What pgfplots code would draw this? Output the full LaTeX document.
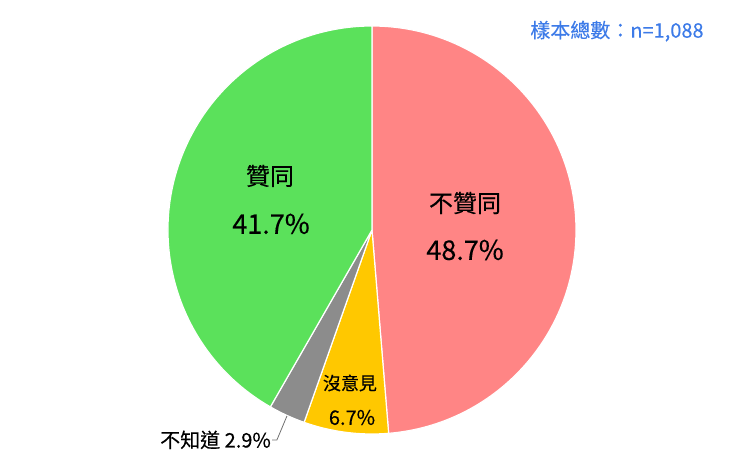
\documentclass[border=0pt]{standalone}
\usepackage{pgfplots}
\pgfplotsset{compat=1.18}
\usepackage{pgfplotstable}
\usepackage{fontspec}
\setmainfont{Noto Sans CJK TC}
\newfontfamily\lbl[FakeBold=0.3]{Noto Sans CJK TC}

\definecolor{cDis}{HTML}{FF8585}
\definecolor{cNone}{HTML}{FFC800}
\definecolor{cDK}{HTML}{8C8C8C}
\definecolor{cAgr}{HTML}{5BE15B}
\definecolor{cNote}{HTML}{3D7BE8}

% share of answers, clockwise from 12 o'clock
\pgfplotstableread{
label value
不贊同 48.7
沒意見 6.7
不知道 2.9
贊同 41.7
}\piedata

\pgfplotstablegetelem{0}{value}\of\piedata \let\vA\pgfplotsretval
\pgfplotstablegetelem{1}{value}\of\piedata \let\vB\pgfplotsretval
\pgfplotstablegetelem{2}{value}\of\piedata \let\vC\pgfplotsretval
\pgfplotstablegetelem{3}{value}\of\piedata \let\vD\pgfplotsretval
\pgfmathsetmacro\aA{90-3.6*\vA}
\pgfmathsetmacro\aB{\aA-3.6*\vB}
\pgfmathsetmacro\aC{\aB-3.6*\vC}
\pgfmathsetmacro\aD{\aC-3.6*\vD}

\def\R{204bp}
\newcommand\slice[3]{%
  \fill[#3, draw=white, line width=1.2pt, line join=round]
    (axis cs:0,0) -- ++(#1:\R) arc[start angle=#1, end angle=#2, radius=\R] -- cycle;}

\begin{document}
\begin{tikzpicture}
\begin{axis}[
  scale only axis,
  width=732bp, height=461bp,
  xmin=-1.8235, xmax=1.7647,
  ymin=-1.1324, ymax=1.1275,
  hide axis, clip=false,
]
\path (rel axis cs:0,0) rectangle (rel axis cs:1,1);
\slice{90}{\aA}{cDis}
\slice{\aA}{\aB}{cNone}
\slice{\aB}{\aC}{cDK}
\slice{\aC}{\aD}{cAgr}

\node[font=\lbl\fontsize{24bp}{28bp}\selectfont] at (axis cs:-0.5,0.265) {贊同};
\node[font=\lbl\fontsize{27bp}{30bp}\selectfont] at (axis cs:-0.495,0.03) {\vD\%};
\node[font=\lbl\fontsize{24bp}{28bp}\selectfont] at (axis cs:0.456,0.132) {不贊同};
\node[font=\lbl\fontsize{27bp}{30bp}\selectfont] at (axis cs:0.456,-0.098) {\vA\%};
\node[font=\lbl\fontsize{18bp}{22bp}\selectfont] at (axis cs:-0.108,-0.75) {沒意見};
\node[font=\lbl\fontsize{20bp}{24bp}\selectfont] at (axis cs:-0.098,-0.919) {\vB\%};

\draw[cDK!80!black, line width=0.8pt] (axis cs:-0.417,-0.912) -- (axis cs:-0.466,-1.029) -- (axis cs:-0.49,-1.029);
\node[anchor=east, inner sep=1bp, font=\lbl\fontsize{20bp}{24bp}\selectfont] at (axis cs:-0.49,-1.029) {不知道 \vC\%};

\node[anchor=east, inner sep=0pt, text=cNote, font=\lbl\fontsize{20bp}{24bp}\selectfont] at (axis cs:1.6265,0.975) {樣本總數：n=1,088};
\end{axis}
\end{tikzpicture}
\end{document}
